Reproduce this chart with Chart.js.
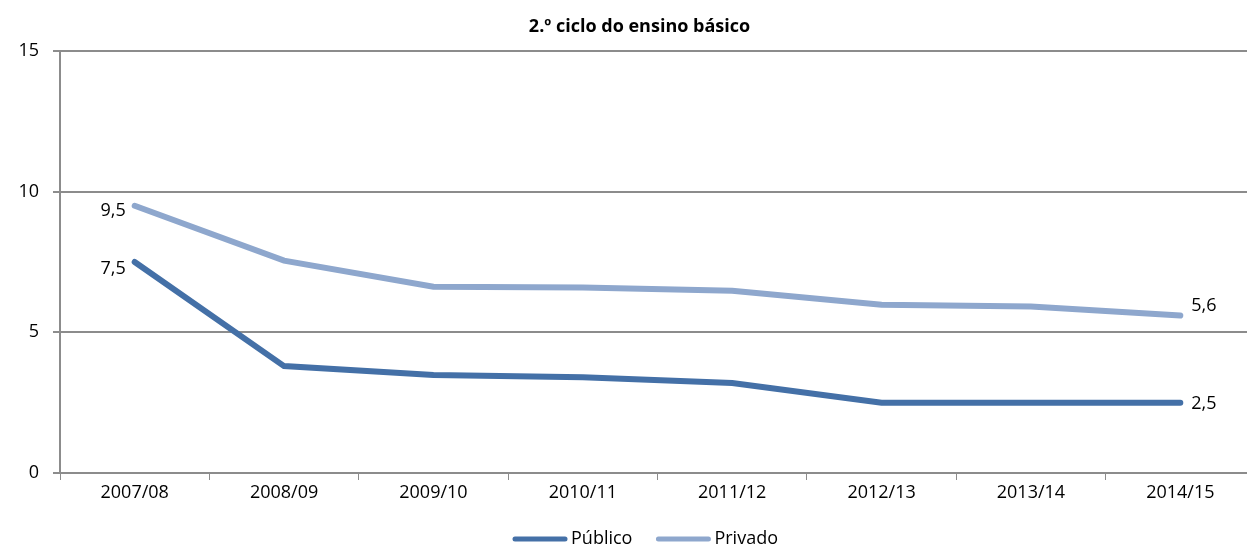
<!DOCTYPE html>
<html>
<head>
<meta charset="utf-8">
<script src="https://cdn.jsdelivr.net/npm/chart.js@4"></script>
<style>
  html, body { margin: 0; padding: 0; background: #fff; overflow: hidden; }
  #wrap { width: 1255px; height: 549px; position: relative; }
</style>
</head>
<body>
<div id="wrap"><canvas id="chart"></canvas></div>
<script>
// ------------------------------------------------------------
// Data
// ------------------------------------------------------------
const years = ['2007/08', '2008/09', '2009/10', '2010/11', '2011/12', '2012/13', '2013/14', '2014/15'];
const publico = [7.5, 3.8, 3.48, 3.4, 3.2, 2.5, 2.5, 2.5];
const privado = [9.5, 7.55, 6.62, 6.59, 6.48, 5.98, 5.92, 5.6];
const yTicks = [0, 5, 10, 15];
const chartTitle = '2.º ciclo do ensino básico';

const COLORS = {
  publico: '#4470a7',
  privado: '#8ea7cd',
  grid: '#8c8c8c',
  text: '#000000'
};

const FONT = "'Open Sans', 'Liberation Sans', sans-serif";

// labels only on first and last point, like the original
const endLabels = {
  id: 'endLabels',
  afterDatasetsDraw(chart) {
    const ctx = chart.ctx;
    ctx.save();
    ctx.font = '18px ' + FONT;
    ctx.fillStyle = COLORS.text;
    ctx.textBaseline = 'middle';
    const offsets = [
      { first: 7, last: 1 },   // Público
      { first: 5, last: -10 }  // Privado
    ];
    chart.data.datasets.forEach((ds, i) => {
      const pts = chart.getDatasetMeta(i).data;
      const fmt = v => v.toFixed(1).replace('.', ',');
      const p0 = pts[0];
      ctx.textAlign = 'right';
      ctx.fillText(fmt(ds.data[0]), p0.x - 9, p0.y + offsets[i].first);
      const pn = pts[pts.length - 1];
      ctx.textAlign = 'left';
      ctx.fillText(fmt(ds.data[ds.data.length - 1]), pn.x + 11, pn.y + offsets[i].last);
    });
    ctx.restore();
  }
};

// title + legend drawn by hand (Excel-like spacing)
const titleAndLegend = {
  id: 'titleAndLegend',
  afterDraw(chart) {
    const ctx = chart.ctx;
    const w = chart.width;
    ctx.save();
    ctx.fillStyle = COLORS.text;
    ctx.textBaseline = 'middle';
    ctx.textAlign = 'center';
    ctx.font = 'bold 18px ' + FONT;
    ctx.fillText(chartTitle, w / 2 + 12, 27);

    // legend
    ctx.font = '18px ' + FONT;
    ctx.textAlign = 'left';
    const lineLen = 54, gap = 4, itemGap = 24, y = 539;
    const items = chart.data.datasets.map(ds => ({
      label: ds.label,
      color: ds.borderColor,
      width: lineLen + gap + ctx.measureText(ds.label).width
    }));
    const total = items.reduce((s, it) => s + it.width, 0) + itemGap * (items.length - 1);
    let x = w / 2 + 18 - total / 2;
    items.forEach(it => {
      ctx.strokeStyle = it.color;
      ctx.lineWidth = 5;
      ctx.lineCap = 'round';
      ctx.beginPath();
      ctx.moveTo(x + 2, y);
      ctx.lineTo(x + lineLen - 2, y);
      ctx.stroke();
      ctx.fillText(it.label, x + lineLen + gap, y);
      x += it.width + itemGap;
    });
    ctx.restore();
  }
};

new Chart(document.getElementById('chart'), {
  type: 'line',
  data: {
    labels: years,
    datasets: [
      {
        label: 'Público',
        data: publico,
        borderColor: COLORS.publico,
        backgroundColor: COLORS.publico,
        borderWidth: 6,
        borderCapStyle: 'round',
        pointRadius: 0,
        tension: 0
      },
      {
        label: 'Privado',
        data: privado,
        borderColor: COLORS.privado,
        backgroundColor: COLORS.privado,
        borderWidth: 6,
        borderCapStyle: 'round',
        pointRadius: 0,
        tension: 0
      }
    ]
  },
  options: {
    responsive: true,
    maintainAspectRatio: false,
    animation: false,
    layout: { padding: { top: 51, bottom: 0, left: 0, right: 0 } },
    plugins: {
      title: { display: false },
      legend: { display: false },
      tooltip: { enabled: false }
    },
    scales: {
      x: {
        offset: true,
        afterFit: s => { s.height = 76; },
        grid: {
          drawOnChartArea: false,
          drawTicks: true,
          tickLength: 7,
          offset: true,
          color: COLORS.grid,
          lineWidth: 1
        },
        border: { color: COLORS.grid, width: 2 },
        ticks: { color: COLORS.text, font: { family: FONT, size: 18 }, padding: 2, maxRotation: 0 }
      },
      y: {
        min: 0,
        max: 15,
        afterBuildTicks: s => { s.ticks = yTicks.map(v => ({ value: v })); },
        afterFit: s => { s.width = 60; },
        grid: { color: COLORS.grid, lineWidth: 2, tickLength: 7 },
        border: { color: COLORS.grid, width: 2 },
        ticks: { color: COLORS.text, font: { family: FONT, size: 18 }, padding: 14 }
      }
    }
  },
  plugins: [endLabels, titleAndLegend]
});
</script>
</body>
</html>
